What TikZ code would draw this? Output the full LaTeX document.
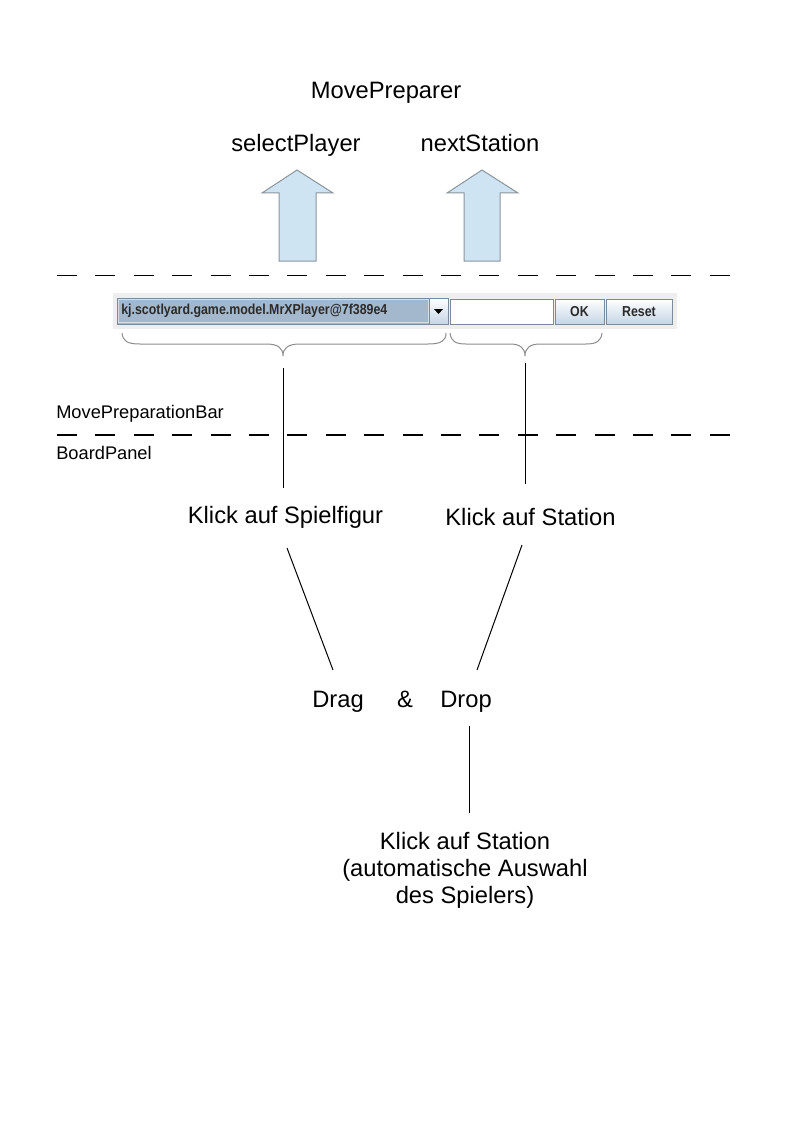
\documentclass[tikz,border=0pt]{standalone}
\usepackage{fontspec}
\usepackage{graphicx}
\setmainfont{Liberation Sans}
\definecolor{arrowfill}{HTML}{CFE4F2}
\definecolor{arrowline}{HTML}{8C949C}
\definecolor{panelgrey}{HTML}{EEEEEE}
\definecolor{combofill}{HTML}{A3B8CC}
\definecolor{ctrlborder}{HTML}{7A8A99}
\definecolor{btntop}{HTML}{FFFFFF}
\definecolor{btnbot}{HTML}{C5D5E5}
\definecolor{bracegrey}{HTML}{8C8C8C}
\definecolor{uitextcol}{HTML}{2B2B2B}
\begin{document}
\begin{tikzpicture}[x=0.75pt,y=-0.75pt,
  lbl/.style={inner sep=0pt, anchor=base, font=\fontsize{17.8}{20.25}\selectfont},
  small/.style={inner sep=0pt, anchor=base west, font=\fontsize{13.7}{16}\selectfont},
  sepline/.style={line width=1pt, dash pattern=on 15pt off 13.8pt},
  uparrow/.style={draw=arrowline, fill=arrowfill, line width=0.75pt, line join=miter},
  link/.style={line width=0.75pt},
  bracestyle/.style={draw=bracegrey, line width=0.75pt},
  ctrl/.style={draw=ctrlborder, line width=0.75pt},
  btn/.style={ctrl, top color=btntop, bottom color=btnbot},
  uitext/.style={inner sep=0pt, text=uitextcol, font=\fontsize{10.8}{12}\bfseries\selectfont}
]
\fill[white] (0,0) rectangle (794,1123);
\useasboundingbox (0,0) rectangle (794,1123);

% top labels
\node[lbl] (mp) at (386,99) {MovePreparer};
\node[lbl] (sp) at (296,152) {selectPlayer};
\node[lbl] (ns) at (480,152) {nextStation};

% up arrows
\draw[uparrow] (297,170) -- (333,193) -- (316,193) -- (316,261) -- (279,261) -- (279,193) -- (262,193) -- cycle;
\draw[uparrow] (482,170) -- (518,193) -- (500,193) -- (500,261) -- (464,261) -- (464,193) -- (447,193) -- cycle;

% separators
\coordinate (s1a) at (57,275.5); \coordinate (s1b) at (730,275.5);
\coordinate (s2a) at (57,435); \coordinate (s2b) at (730,435);
\draw[sepline] (s1a) -- (s1b);
\draw[sepline] (s2a) -- (s2b);

% toolbar
\fill[panelgrey] (113,293) rectangle (677,329);
\draw[ctrl, fill=combofill] (117,298) rectangle (448,324);
\draw[white!55!combofill, line width=0.75pt] (118.5,299.5) rectangle (428,322.5);
\draw[btn] (429,298) rectangle (448,324);
\fill[black] (434,309) -- (443,309) -- (438.5,314) -- cycle;
\node[uitext, anchor=west] (combo) at (121,311) {\scalebox{0.86}[1]{kj.scotlyard.game.model.MrXPlayer@7f389e4}};
\draw[ctrl, fill=white] (450,299) rectangle (553,324);
\draw[btn] (555,299) rectangle (604,324);
\draw[btn] (606,299) rectangle (672,324);
\node[uitext] (ok) at (579.5,312) {\scalebox{0.86}[1]{OK}};
\node[uitext] (reset) at (639,312) {\scalebox{0.86}[1]{Reset}};

% braces
\draw[bracestyle] (122,333) .. controls (123,341) and (127,344) .. (140,344) -- (266,344)
  .. controls (278,344) and (283,348) .. (283,356)
  .. controls (283,348) and (288,344) .. (300,344) -- (428,344)
  .. controls (441,344) and (446,341) .. (446,333);
\draw[bracestyle] (450,333) .. controls (451,341) and (455,344) .. (466,344) -- (510,344)
  .. controls (520,344) and (525,348) .. (525,356)
  .. controls (525,348) and (530,344) .. (540,344) -- (586,344)
  .. controls (597,344) and (601,341) .. (602,333);

% panel labels
\node[small] (mpb) at (56,418) {MovePreparationBar};
\node[small] (bp) at (56,459) {BoardPanel};

% middle labels
\node[lbl] (kspf) at (285.5,523) {Klick auf Spielfigur};
\node[lbl] (kst) at (530.5,525) {Klick auf Station};
\node[lbl] (drag) at (338,707) {Drag};
\node[lbl] (amp) at (405,707) {\&};
\node[lbl] (drop) at (466,707) {Drop};
\node[lbl, align=center] (kauto) at (465,903) {Klick auf Station\\(automatische Auswahl\\des Spielers)};

% connectors
\coordinate (b1) at (283,368); \coordinate (k1) at (283,488);
\coordinate (b2) at (525,363); \coordinate (k2) at (525,484);
\draw[link] (b1) -- (k1);
\draw[link] (b2) -- (k2);
\coordinate (d1a) at (287,548); \coordinate (d1b) at (333,670);
\coordinate (d2a) at (522,545); \coordinate (d2b) at (477,670);
\draw[link] (d1a) -- (d1b);
\draw[link] (d2a) -- (d2b);
\coordinate (v1) at (469,726); \coordinate (v2) at (469,813);
\draw[link] (v1) -- (v2);
\end{tikzpicture}
\end{document}
